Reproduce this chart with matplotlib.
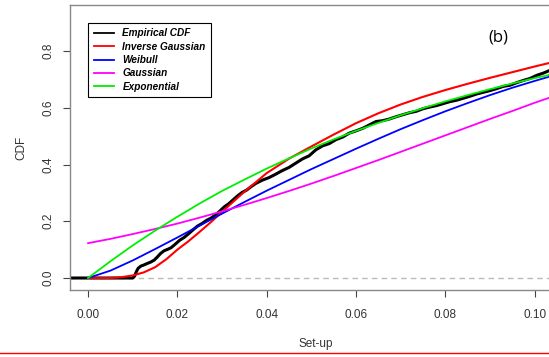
import numpy as np
import matplotlib.pyplot as plt
from matplotlib.lines import Line2D

plt.rcParams["font.family"] = ["Liberation Sans", "DejaVu Sans"]

# Empirical CDF
emp_x = [-0.006, 0.0100, 0.0104, 0.0108, 0.0112, 0.0118, 0.0125, 0.0132, 0.0140, 0.0148,
         0.0155, 0.0162, 0.0170, 0.0178, 0.0186, 0.0195, 0.0205, 0.0215, 0.0225, 0.0235,
         0.0245, 0.0255, 0.0265, 0.0275, 0.0285, 0.0295, 0.0305, 0.0315, 0.0325, 0.0335,
         0.0345, 0.0355, 0.0365, 0.0375, 0.0390, 0.0405, 0.0420, 0.0435, 0.0450, 0.0465,
         0.0480, 0.0495, 0.0510, 0.0525, 0.0540, 0.0555, 0.0570, 0.0585, 0.0600, 0.0615,
         0.0630, 0.0645, 0.0660, 0.0675, 0.0690, 0.0705, 0.0720, 0.0735, 0.0750, 0.0765,
         0.0780, 0.0795, 0.0810, 0.0825, 0.0840, 0.0855, 0.0870, 0.0885, 0.0900, 0.0915,
         0.0930, 0.0945, 0.0960, 0.0975, 0.0990, 0.1005, 0.1020, 0.1035, 0.1050]
emp_y = [0.0, 0.0, 0.006, 0.022, 0.034, 0.042, 0.046, 0.051, 0.056, 0.063,
         0.074, 0.086, 0.096, 0.101, 0.107, 0.119, 0.133, 0.143, 0.156, 0.170,
         0.183, 0.192, 0.203, 0.211, 0.222, 0.236, 0.251, 0.262, 0.276, 0.290,
         0.302, 0.310, 0.322, 0.333, 0.345, 0.354, 0.366, 0.379, 0.390, 0.405,
         0.420, 0.431, 0.452, 0.466, 0.474, 0.488, 0.497, 0.511, 0.519, 0.528,
         0.540, 0.552, 0.555, 0.561, 0.569, 0.576, 0.583, 0.588, 0.597, 0.603,
         0.608, 0.615, 0.622, 0.627, 0.634, 0.641, 0.649, 0.655, 0.661, 0.668,
         0.676, 0.680, 0.689, 0.697, 0.704, 0.715, 0.723, 0.733, 0.740]

# fitted curves
fit_x = [0.0, 0.005, 0.01, 0.015, 0.02, 0.025, 0.03, 0.035, 0.04, 0.045, 0.05,
         0.055, 0.06, 0.065, 0.07, 0.075, 0.08, 0.085, 0.09, 0.095, 0.1, 0.105]
weibull = [0.0, 0.026, 0.062, 0.102, 0.143, 0.185, 0.227, 0.268, 0.308, 0.346, 0.384,
           0.420, 0.456, 0.491, 0.525, 0.557, 0.588, 0.617, 0.645, 0.671, 0.695, 0.718]
gaussian = [0.123, 0.138, 0.155, 0.173, 0.192, 0.213, 0.235, 0.258, 0.282, 0.307, 0.333,
            0.360, 0.388, 0.416, 0.445, 0.474, 0.503, 0.532, 0.561, 0.589, 0.618, 0.645]
expo = [0.0, 0.059, 0.115, 0.167, 0.216, 0.263, 0.307, 0.347, 0.386, 0.422, 0.457,
        0.489, 0.519, 0.547, 0.574, 0.599, 0.623, 0.645, 0.666, 0.686, 0.705, 0.722]

ig_x = [0.0, 0.005, 0.0075, 0.01, 0.0125, 0.015, 0.0175, 0.02, 0.0225, 0.025, 0.0275,
        0.03, 0.0325, 0.035, 0.04, 0.045, 0.05, 0.055, 0.06, 0.065, 0.07, 0.075,
        0.08, 0.085, 0.09, 0.095, 0.1, 0.105]
inv_gauss = [0.0, 0.0, 0.003, 0.009, 0.020, 0.038, 0.066, 0.100, 0.130, 0.163, 0.197,
             0.233, 0.269, 0.304, 0.370, 0.421, 0.464, 0.506, 0.546, 0.581, 0.612, 0.639,
             0.663, 0.685, 0.706, 0.726, 0.746, 0.765]

W, H = 549, 357
fig = plt.figure(figsize=(W / 100, H / 100), dpi=100)
x0, x1 = -0.00405, 0.106
y0, y1 = -0.0423, 0.963
ax_w = (x1 - x0) * 4465
ax = fig.add_axes([70 / W, (H - 290) / H, ax_w / W, 285 / H])

ax.axhline(0, color="#bbbbbb", lw=1, ls=(0, (4, 3)), zorder=1)
ax.plot(ig_x, inv_gauss, color="#ff0000", lw=1.5, zorder=3)
ax.plot(fit_x, weibull, color="#0000ff", lw=1.3, zorder=3)
ax.plot(fit_x, gaussian, color="#ff00ff", lw=1.3, zorder=3)
ax.plot(fit_x, expo, color="#00ee00", lw=1.3, zorder=3)
ax.plot(emp_x, emp_y, color="black", lw=2.2, zorder=2)

ax.set_xlim(x0, x1)
ax.set_ylim(y0, y1)
ax.set_xticks([0.0, 0.02, 0.04, 0.06, 0.08, 0.10])
ax.set_xticklabels(["0.00", "0.02", "0.04", "0.06", "0.08", "0.10"])
ax.set_yticks([0.0, 0.2, 0.4, 0.6, 0.8])
ax.set_yticklabels(["0.0", "0.2", "0.4", "0.6", "0.8"], rotation=90, va="center")
ax.tick_params(colors="#444444", labelcolor="#333333", labelsize=8.5, length=5, width=0.8)
ax.tick_params(axis="x", pad=9)
ax.tick_params(axis="y", pad=6)
for s in ax.spines.values():
    s.set_color("#888888")
    s.set_linewidth(1)

ax.set_xlabel("Set-up", fontsize=8.5, color="#333333", labelpad=12)
ax.set_ylabel("CDF", fontsize=8.5, color="#333333", labelpad=11)

fig.text(498 / W, 1 - 37 / H, "(b)", fontsize=12, ha="center", va="center",
         family="Open Sans")

handles = [Line2D([], [], color=c, lw=1.3) for c in
           ["black", "#ff0000", "#0000ff", "#ff00ff", "#00ee00"]]
labels = ["Empirical CDF", "Inverse Gaussian", "Weibull", "Gaussian", "Exponential"]
leg = ax.legend(handles, labels, loc="upper left",
                bbox_to_anchor=((88 - 70) / ax_w, (290 - 23) / 285),
                frameon=True, fancybox=False, edgecolor="black", framealpha=1,
                prop={"weight": "bold", "style": "italic", "size": 7.2},
                handlelength=2.0, handletextpad=0.9, labelspacing=0.33,
                borderpad=0.55, borderaxespad=0)
leg.get_frame().set_linewidth(0.8)

fig.add_artist(Line2D([0, 1], [1 - 353 / H, 1 - 353 / H], color="red", lw=1,
                      transform=fig.transFigure))

fig.savefig("out.png", dpi=100)
